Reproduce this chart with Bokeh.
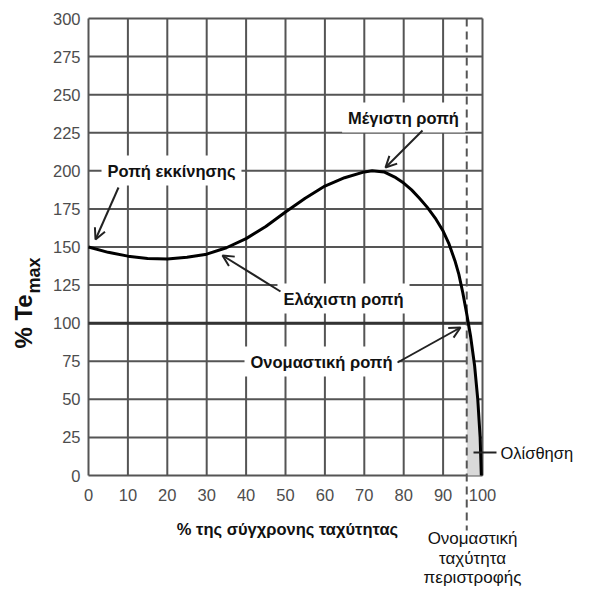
import numpy as np
from bokeh.plotting import figure
from bokeh.models import Range1d, Label, Arrow, OpenHead
from bokeh.core.properties import value
from bokeh.embed import file_html
from bokeh.resources import INLINE

# ---- data ----
speed_pct = [0, 5, 10, 15, 20, 25, 30, 35, 40, 45, 50, 55, 60, 65, 70, 72, 75, 78, 80, 82,
             84, 86, 88, 90, 91.5, 93, 94, 95, 96, 97, 98, 98.8, 99.4, 99.7]
torque_pct = [150, 146.5, 144, 142.5, 142.2, 143.3, 145.3, 149.5, 155.5, 163.5, 173, 182, 190,
              195.5, 199.3, 200, 199.3, 195.5, 192, 187.5, 182, 176, 169, 160.5, 152, 141,
              132, 120, 106, 91, 72, 50, 25, 0]
x_ticks = [0, 10, 20, 30, 40, 50, 60, 70, 80, 90, 100]
y_ticks = [0, 25, 50, 75, 100, 125, 150, 175, 200, 225, 250, 275, 300]
x_min, x_max = 0, 100
y_min, y_max = 0, 300
nominal_torque = 100
rated_speed = 96

FONT = "Liberation Sans"
GRID = "#555555"
INK = "#111111"

# ---- canvas / plot-box geometry (pixels) ----
W, H = 574, 587
BOX_L, BOX_R, BOX_T, BOX_B = 88, 482, 18, 475
xs = (BOX_R - BOX_L) / (x_max - x_min)
ys = (BOX_B - BOX_T) / (y_max - y_min)


def dx(px):  # canvas pixel -> data x
    return x_min + (px - BOX_L) / xs


def dy(py):  # canvas pixel -> data y
    return y_min + (BOX_B - py) / ys


p = figure(width=W, height=H, x_range=Range1d(dx(0), dx(W)), y_range=Range1d(dy(H), dy(0)),
           output_backend="svg", toolbar_location=None, min_border=0)
p.axis.visible = False
p.grid.visible = False
p.outline_line_color = None
p.background_fill_color = "white"
p.border_fill_color = "white"

# grid lines from the tick arrays
p.segment(x0=x_ticks, y0=y_min, x1=x_ticks, y1=y_max, line_color=GRID, line_width=2)
p.segment(x0=x_min, y0=y_ticks, x1=x_max, y1=y_ticks, line_color=GRID, line_width=2)

# tick labels
p.text(x=x_ticks, y=dy(494), text=[str(t) for t in x_ticks], text_font=value(FONT),
       text_font_size=value("16.5px"), text_color="#4d4d4d", text_align=value("center"),
       text_baseline=value("middle"))
p.text(x=dx(80), y=y_ticks, text=[str(t) for t in y_ticks], text_font=value(FONT),
       text_font_size=value("16.5px"), text_color="#4d4d4d", text_align=value("right"),
       text_baseline=value("middle"))

# slip region shade between rated speed and curve
sx = np.array(speed_pct, dtype=float)
sy = np.array(torque_pct, dtype=float)
mask = sx >= rated_speed
y_at_rated = float(np.interp(rated_speed, sx, sy))
px_ = [rated_speed] + list(sx[mask]) + [rated_speed]
py_ = [y_at_rated] + list(sy[mask]) + [0]
p.patch(px_, py_, fill_color="#d9d9d9", line_color=None)

# nominal torque line
p.segment(x0=x_min, y0=nominal_torque, x1=x_max, y1=nominal_torque, line_color="#333333",
          line_width=3)

# rated speed dashed line (extends below the axis)
p.segment(x0=rated_speed, y0=y_max, x1=rated_speed, y1=dy(530), line_color=GRID,
          line_width=2, line_dash="8 5")

# torque curve
p.line(speed_pct, torque_pct, line_color="black", line_width=3)


def lab(x, y, text, bold=True, size="16.5px", align="center", bg=True, angle=0.0):
    kw = dict(x=x, y=y, text=text, text_align=align, text_baseline="middle",
              text_font=FONT, text_font_size=size, text_color=INK,
              text_font_style="bold" if bold else "normal", angle=angle)
    if bg:
        kw.update(background_fill_color="white", padding=6)
    p.add_layout(Label(**kw))


def arrow(x0, y0, x1, y1, head=True):
    p.add_layout(Arrow(end=OpenHead(size=11, line_width=2, line_color="#222222") if head else None,
                       x_start=x0, y_start=y0, x_end=x1, y_end=y1,
                       line_color="#222222", line_width=2))


lab(dx(171), dy(170), "Ροπή εκκίνησης")
arrow(dx(118), dy(187), dx(95), dy(239))

lab(dx(403), dy(117), "Μέγιστη ροπή")
arrow(dx(422), dy(130), dx(385), dy(167))

lab(dx(343), dy(298), "Ελάχιστη ροπή")
arrow(dx(280), dy(291), dx(222), dy(255))

lab(dx(321), dy(361), "Ονομαστική ροπή")
arrow(dx(397), dy(362), dx(460), dy(327))

# x-axis title
lab(dx(287), dy(528), "% της σύγχρονης ταχύτητας", bg=False)

# slip
lab(dx(500), dy(452), "Ολίσθηση", bold=False, size="16.5px", align="left", bg=False)
arrow(dx(473), dy(452), dx(496), dy(452), head=False)

# rated speed caption
lab(dx(472), dy(538), "Ονομαστική", bold=False, size="17px", bg=False)
lab(dx(472), dy(558), "ταχύτητα", bold=False, size="17px", bg=False)
lab(dx(472), dy(577), "περιστροφής", bold=False, size="17px", bg=False)

# y-axis title: % Te_max
lab(dx(23), dy(321), "% Te", size="24px", bg=False, angle=np.pi / 2)
lab(dx(33), dy(275), "max", size="18px", bg=False, angle=np.pi / 2)

open("out.html", "w").write(file_html(p, INLINE))
